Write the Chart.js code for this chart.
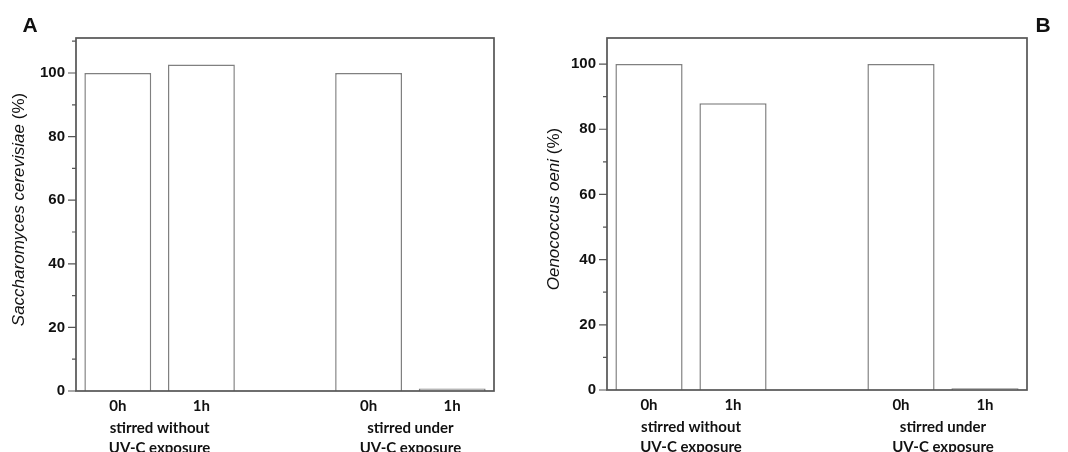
<!DOCTYPE html>
<html><head><meta charset="utf-8">
<script src="https://cdn.jsdelivr.net/npm/chart.js@4.4.1/dist/chart.umd.min.js"></script>
<style>
html,body{margin:0;padding:0;background:#fff;}
#wrap{position:relative;width:1068px;height:452px;overflow:hidden;background:#fff;}
canvas{position:absolute;top:0;}
#cA{left:0;} #cB{left:534px;}
</style></head><body>
<div id="wrap"><canvas id="cA" width="534" height="452"></canvas><canvas id="cB" width="534" height="452"></canvas></div>
<script>
// ---- data ----
const CATEGORIES = ['0h', '1h', '', '0h', '1h'];
const VALUES_A = [100, 102.7, null, 100, 0.8];
const VALUES_B = [100, 88, null, 100, 0.5];
const GROUP_LABELS = [['stirred without', 'UV-C exposure'], ['stirred under', 'UV-C exposure']];
const GROUP_INDEXES = [[0, 1], [3, 4]];
const Y_MAJOR = [0, 20, 40, 60, 80, 100];
const Y_MINOR = [10, 30, 50, 70, 90, 110];
const TITLE_A = [['Saccharomyces cerevisiae', true], [' (%)', false]];
const TITLE_B = [['Oenococcus oeni', true], [' (%)', false]];
const PANEL_A = 'A';
const PANEL_B = 'B';

const FRAME = '#555555';
const BAR_BORDER = '#808080';
const TEXT = '#111111';

function makeDecor(cfg) {
  return {
    id: 'decor' + cfg.panel,
    afterDatasetsDraw(chart) {
      const ctx = chart.ctx, a = chart.chartArea, y = chart.scales.y, x = chart.scales.x;
      ctx.save();
      // frame
      ctx.strokeStyle = FRAME;
      ctx.lineWidth = 1.7;
      ctx.strokeRect(a.left, a.top, a.right - a.left, a.bottom - a.top);
      // ticks
      ctx.lineWidth = 1.2;
      ctx.beginPath();
      Y_MAJOR.forEach(v => { const py = y.getPixelForValue(v); ctx.moveTo(a.left - 8, py); ctx.lineTo(a.left, py); });
      Y_MINOR.forEach(v => { if (v <= y.max) { const py = y.getPixelForValue(v); ctx.moveTo(a.left - 4, py); ctx.lineTo(a.left, py); } });
      ctx.stroke();
      // group labels
      ctx.fillStyle = TEXT;
      ctx.font = 'bold 15px Lato';
      ctx.textAlign = 'center';
      ctx.textBaseline = 'middle';
      GROUP_INDEXES.forEach((g, k) => {
        const cx = (x.getPixelForValue(g[0]) + x.getPixelForValue(g[1])) / 2;
        ctx.fillText(GROUP_LABELS[k][0], cx, a.bottom + 37);
        ctx.fillText(GROUP_LABELS[k][1], cx, a.bottom + 57);
      });
      // y title (mixed italic)
      ctx.save();
      ctx.translate(cfg.titleX, (a.top + a.bottom) / 2 - 5);
      ctx.rotate(-Math.PI / 2);
      ctx.textAlign = 'left';
      ctx.textBaseline = 'middle';
      let total = 0;
      cfg.title.forEach(p => { ctx.font = (p[1] ? 'italic ' : '') + '17px "Liberation Sans", Arial'; total += ctx.measureText(p[0]).width; });
      let px = -total / 2;
      cfg.title.forEach(p => { ctx.font = (p[1] ? 'italic ' : '') + '17px "Liberation Sans", Arial'; ctx.fillText(p[0], px, 0); px += ctx.measureText(p[0]).width; });
      ctx.restore();
      // panel letter
      ctx.font = 'bold 21px "Liberation Sans", Arial';
      ctx.textAlign = 'center';
      ctx.fillText(cfg.panel, cfg.panelX, 26);
      ctx.restore();
    }
  };
}

function makeChart(id, values, cfg) {
  return new Chart(document.getElementById(id), {
    type: 'bar',
    data: {
      labels: CATEGORIES,
      datasets: [{
        data: values,
        backgroundColor: '#ffffff',
        borderColor: BAR_BORDER,
        borderWidth: 1.5,
        barPercentage: 0.8,
        categoryPercentage: 1.0
      }]
    },
    options: {
      responsive: false,
      animation: false,
      layout: { padding: { top: cfg.padTop, right: cfg.padRight, left: 0, bottom: 0 } },
      plugins: { legend: { display: false }, tooltip: { enabled: false } },
      scales: {
        x: {
          offset: true,
          grid: { display: false, drawTicks: false },
          border: { display: false },
          ticks: { color: TEXT, font: { family: 'Lato', weight: 'bold', size: 15 }, padding: 6, autoSkip: false, maxRotation: 0 },
          afterFit(ax) { ax.height = cfg.xHeight; }
        },
        y: {
          min: 0, max: cfg.yMax,
          grid: { display: false, drawTicks: false },
          border: { display: false },
          afterBuildTicks(ax) { ax.ticks = Y_MAJOR.map(v => ({ value: v })); },
          ticks: { color: TEXT, font: { family: 'Liberation Sans', weight: 'bold', size: 15 }, padding: 11 },
          afterFit(ax) { ax.width = cfg.yWidth; }
        }
      }
    },
    plugins: [makeDecor(cfg)]
  });
}

makeChart('cA', VALUES_A, { panel: PANEL_A, panelX: 30, title: TITLE_A, titleX: 19, yMax: 111, padTop: 38, padRight: 40, xHeight: 61, yWidth: 76 });
makeChart('cB', VALUES_B, { panel: PANEL_B, panelX: 509, title: TITLE_B, titleX: 20, yMax: 108, padTop: 38, padRight: 41, xHeight: 62, yWidth: 73 });
</script>
</body></html>
